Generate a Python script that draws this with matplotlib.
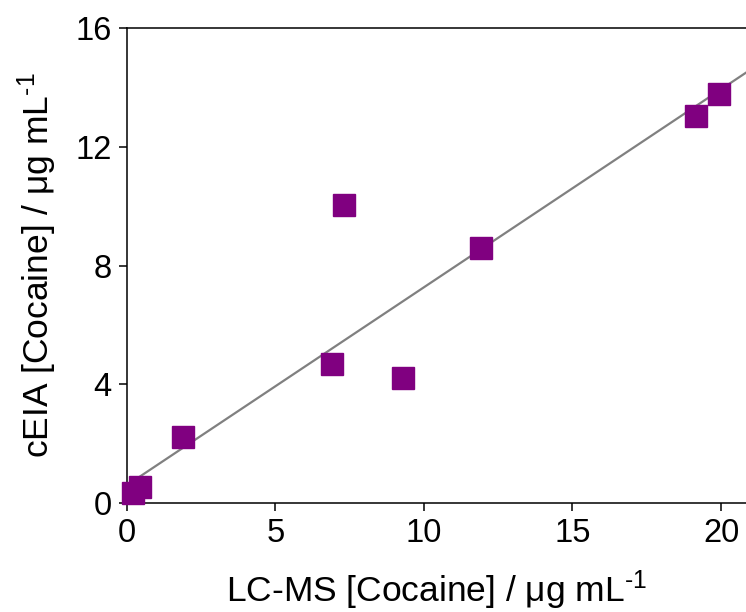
import numpy as np
import matplotlib
matplotlib.use("Agg")
import matplotlib.pyplot as plt

plt.rcParams['font.family'] = ['Liberation Sans', 'DejaVu Sans']
plt.rcParams['mathtext.fontset'] = 'custom'
plt.rcParams['mathtext.rm'] = 'Liberation Sans'
plt.rcParams['mathtext.it'] = 'Liberation Sans'

# data
lcms = [0.2, 0.45, 1.89, 6.9, 7.3, 9.3, 11.92, 19.16, 19.93]
ceia = [0.34, 0.54, 2.22, 4.7, 10.03, 4.2, 8.6, 13.03, 13.77]
fit_slope = 0.667
fit_intercept = 0.6
xticks = [0, 5, 10, 15, 20]
yticks = [0, 4, 8, 12, 16]

fig = plt.figure(figsize=(7.46, 6.12), dpi=100)
ax = fig.add_axes([0.170, 0.178, 0.830, 0.776])

xl = (0, 20.84)
xx = np.array(xl)
ax.plot(xx, fit_intercept + fit_slope * xx, color='#808080', lw=1.6, zorder=2)
ax.plot(lcms, ceia, 's', color='#800080', ms=15.5, mec='#800080', zorder=3, clip_on=False)

ax.set_xlim(xl)
ax.set_ylim(0, 16)
ax.set_xticks(xticks)
ax.set_yticks(yticks)
ax.tick_params(direction='out', length=6, width=1.1, labelsize=23.5, pad=5)
for s in ['left', 'bottom', 'top']:
    ax.spines[s].set_linewidth(1.1)
ax.spines['right'].set_visible(False)

ax.set_xlabel(r'LC-MS [Cocaine] / $\mu$g mL$^{\text{-1}}$', fontsize=25.5, labelpad=14)
ax.set_ylabel(r'cEIA [Cocaine] / $\mu$g mL$^{\text{-1}}$', fontsize=25.5, labelpad=12)

fig.savefig('out.png', dpi=100)
